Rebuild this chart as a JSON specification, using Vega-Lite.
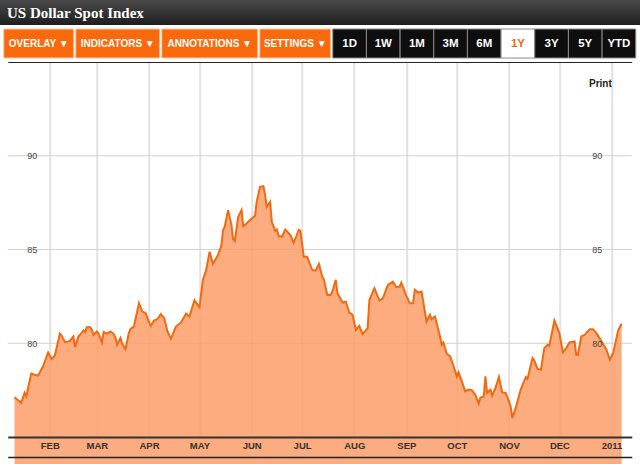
{
  "$schema": "https://vega.github.io/schema/vega-lite/v6.json",
  "background": "white",
  "padding": 0,
  "spacing": 3,
  "center": true,
  "config": {
    "view": {"stroke": null},
    "axis": {"minExtent": 0},
    "font": "Liberation Sans"
  },
  "datasets": {
    "dxy": [
      {"date": "2010-01-11", "value": 77.12},
      {"date": "2010-01-15", "value": 76.82},
      {"date": "2010-01-17", "value": 77.35},
      {"date": "2010-01-18", "value": 77.17},
      {"date": "2010-01-21", "value": 78.38},
      {"date": "2010-01-23", "value": 78.32},
      {"date": "2010-01-25", "value": 78.27},
      {"date": "2010-01-28", "value": 78.77},
      {"date": "2010-01-31", "value": 79.51},
      {"date": "2010-02-02", "value": 79.16},
      {"date": "2010-02-04", "value": 79.34},
      {"date": "2010-02-07", "value": 80.51},
      {"date": "2010-02-08", "value": 80.41},
      {"date": "2010-02-10", "value": 80.06},
      {"date": "2010-02-12", "value": 80.10},
      {"date": "2010-02-13", "value": 80.13},
      {"date": "2010-02-15", "value": 80.36},
      {"date": "2010-02-16", "value": 79.80},
      {"date": "2010-02-18", "value": 80.36},
      {"date": "2010-02-20", "value": 80.57},
      {"date": "2010-02-21", "value": 80.68},
      {"date": "2010-02-22", "value": 80.60},
      {"date": "2010-02-23", "value": 80.86},
      {"date": "2010-02-25", "value": 80.86},
      {"date": "2010-02-26", "value": 80.72},
      {"date": "2010-02-27", "value": 80.45},
      {"date": "2010-03-01", "value": 80.63},
      {"date": "2010-03-02", "value": 80.51},
      {"date": "2010-03-04", "value": 80.04},
      {"date": "2010-03-05", "value": 80.60},
      {"date": "2010-03-07", "value": 80.51},
      {"date": "2010-03-09", "value": 80.63},
      {"date": "2010-03-11", "value": 80.49},
      {"date": "2010-03-12", "value": 80.31},
      {"date": "2010-03-13", "value": 79.92},
      {"date": "2010-03-15", "value": 80.28},
      {"date": "2010-03-16", "value": 79.97},
      {"date": "2010-03-18", "value": 79.69},
      {"date": "2010-03-20", "value": 80.54},
      {"date": "2010-03-21", "value": 80.77},
      {"date": "2010-03-23", "value": 80.89},
      {"date": "2010-03-26", "value": 82.14},
      {"date": "2010-03-28", "value": 81.69},
      {"date": "2010-03-30", "value": 81.61},
      {"date": "2010-03-31", "value": 81.34},
      {"date": "2010-04-02", "value": 80.93},
      {"date": "2010-04-04", "value": 81.21},
      {"date": "2010-04-06", "value": 81.29},
      {"date": "2010-04-08", "value": 81.55},
      {"date": "2010-04-10", "value": 81.34},
      {"date": "2010-04-12", "value": 80.63},
      {"date": "2010-04-14", "value": 80.25},
      {"date": "2010-04-17", "value": 80.89},
      {"date": "2010-04-20", "value": 81.11},
      {"date": "2010-04-23", "value": 81.58},
      {"date": "2010-04-25", "value": 81.43},
      {"date": "2010-04-28", "value": 82.30},
      {"date": "2010-04-30", "value": 82.05},
      {"date": "2010-05-01", "value": 81.93},
      {"date": "2010-05-03", "value": 83.38},
      {"date": "2010-05-05", "value": 83.91},
      {"date": "2010-05-07", "value": 84.88},
      {"date": "2010-05-09", "value": 84.23},
      {"date": "2010-05-12", "value": 84.71},
      {"date": "2010-05-14", "value": 85.19},
      {"date": "2010-05-15", "value": 86.04},
      {"date": "2010-05-16", "value": 86.21},
      {"date": "2010-05-18", "value": 87.10},
      {"date": "2010-05-20", "value": 86.30},
      {"date": "2010-05-21", "value": 85.54},
      {"date": "2010-05-22", "value": 85.45},
      {"date": "2010-05-24", "value": 86.74},
      {"date": "2010-05-26", "value": 87.10},
      {"date": "2010-05-27", "value": 86.25},
      {"date": "2010-05-29", "value": 86.39},
      {"date": "2010-05-31", "value": 86.57},
      {"date": "2010-06-03", "value": 86.80},
      {"date": "2010-06-04", "value": 87.54},
      {"date": "2010-06-06", "value": 88.34},
      {"date": "2010-06-08", "value": 88.38},
      {"date": "2010-06-09", "value": 87.90},
      {"date": "2010-06-10", "value": 87.28},
      {"date": "2010-06-12", "value": 87.54},
      {"date": "2010-06-13", "value": 86.48},
      {"date": "2010-06-15", "value": 86.00},
      {"date": "2010-06-16", "value": 86.07},
      {"date": "2010-06-17", "value": 85.72},
      {"date": "2010-06-19", "value": 85.68},
      {"date": "2010-06-21", "value": 86.07},
      {"date": "2010-06-24", "value": 85.77},
      {"date": "2010-06-26", "value": 85.36},
      {"date": "2010-06-29", "value": 86.04},
      {"date": "2010-06-30", "value": 86.00},
      {"date": "2010-07-02", "value": 84.62},
      {"date": "2010-07-04", "value": 84.62},
      {"date": "2010-07-07", "value": 83.91},
      {"date": "2010-07-09", "value": 83.87},
      {"date": "2010-07-11", "value": 84.23},
      {"date": "2010-07-13", "value": 83.55},
      {"date": "2010-07-14", "value": 83.38},
      {"date": "2010-07-16", "value": 82.58},
      {"date": "2010-07-18", "value": 82.58},
      {"date": "2010-07-19", "value": 82.76},
      {"date": "2010-07-21", "value": 83.38},
      {"date": "2010-07-22", "value": 82.67},
      {"date": "2010-07-25", "value": 82.17},
      {"date": "2010-07-27", "value": 82.22},
      {"date": "2010-07-29", "value": 81.64},
      {"date": "2010-07-31", "value": 81.52},
      {"date": "2010-08-02", "value": 80.72},
      {"date": "2010-08-04", "value": 80.93},
      {"date": "2010-08-06", "value": 80.49},
      {"date": "2010-08-09", "value": 80.81},
      {"date": "2010-08-10", "value": 82.31},
      {"date": "2010-08-13", "value": 82.94},
      {"date": "2010-08-15", "value": 82.49},
      {"date": "2010-08-16", "value": 82.28},
      {"date": "2010-08-18", "value": 82.40},
      {"date": "2010-08-21", "value": 83.11},
      {"date": "2010-08-24", "value": 83.29},
      {"date": "2010-08-26", "value": 82.99},
      {"date": "2010-08-28", "value": 83.02},
      {"date": "2010-08-29", "value": 83.23},
      {"date": "2010-09-01", "value": 82.53},
      {"date": "2010-09-03", "value": 82.14},
      {"date": "2010-09-05", "value": 82.14},
      {"date": "2010-09-06", "value": 82.85},
      {"date": "2010-09-08", "value": 82.70},
      {"date": "2010-09-10", "value": 82.76},
      {"date": "2010-09-13", "value": 81.16},
      {"date": "2010-09-15", "value": 81.52},
      {"date": "2010-09-16", "value": 81.29},
      {"date": "2010-09-18", "value": 81.43},
      {"date": "2010-09-21", "value": 80.36},
      {"date": "2010-09-22", "value": 79.92},
      {"date": "2010-09-23", "value": 80.04},
      {"date": "2010-09-25", "value": 79.44},
      {"date": "2010-09-27", "value": 79.30},
      {"date": "2010-09-29", "value": 78.80},
      {"date": "2010-10-01", "value": 78.23},
      {"date": "2010-10-02", "value": 78.45},
      {"date": "2010-10-04", "value": 77.97},
      {"date": "2010-10-06", "value": 77.44},
      {"date": "2010-10-08", "value": 77.53},
      {"date": "2010-10-10", "value": 77.49},
      {"date": "2010-10-12", "value": 77.26},
      {"date": "2010-10-14", "value": 76.78},
      {"date": "2010-10-15", "value": 77.09},
      {"date": "2010-10-17", "value": 77.17},
      {"date": "2010-10-18", "value": 78.23},
      {"date": "2010-10-19", "value": 77.35},
      {"date": "2010-10-21", "value": 77.53},
      {"date": "2010-10-22", "value": 77.21},
      {"date": "2010-10-24", "value": 77.62},
      {"date": "2010-10-26", "value": 78.20},
      {"date": "2010-10-28", "value": 77.38},
      {"date": "2010-10-30", "value": 77.35},
      {"date": "2010-11-01", "value": 76.90},
      {"date": "2010-11-02", "value": 76.61},
      {"date": "2010-11-03", "value": 76.02},
      {"date": "2010-11-05", "value": 76.55},
      {"date": "2010-11-08", "value": 77.53},
      {"date": "2010-11-11", "value": 78.20},
      {"date": "2010-11-12", "value": 78.10},
      {"date": "2010-11-15", "value": 79.21},
      {"date": "2010-11-16", "value": 79.09},
      {"date": "2010-11-18", "value": 78.63},
      {"date": "2010-11-20", "value": 78.59},
      {"date": "2010-11-22", "value": 79.74},
      {"date": "2010-11-24", "value": 79.92},
      {"date": "2010-11-25", "value": 79.87},
      {"date": "2010-11-28", "value": 81.21},
      {"date": "2010-12-01", "value": 80.54},
      {"date": "2010-12-03", "value": 79.51},
      {"date": "2010-12-05", "value": 79.74},
      {"date": "2010-12-07", "value": 80.04},
      {"date": "2010-12-10", "value": 80.10},
      {"date": "2010-12-11", "value": 79.39},
      {"date": "2010-12-12", "value": 79.39},
      {"date": "2010-12-14", "value": 80.36},
      {"date": "2010-12-16", "value": 80.45},
      {"date": "2010-12-19", "value": 80.75},
      {"date": "2010-12-21", "value": 80.75},
      {"date": "2010-12-23", "value": 80.54},
      {"date": "2010-12-26", "value": 80.10},
      {"date": "2010-12-29", "value": 79.65},
      {"date": "2010-12-31", "value": 79.12},
      {"date": "2011-01-02", "value": 79.48},
      {"date": "2011-01-05", "value": 80.72},
      {"date": "2011-01-07", "value": 81.04}
    ]
  },
  "vconcat": [
    {
      "width": 640,
      "height": 25,
      "data": {"values": [{"name": "US Dollar Spot Index"}]},
      "title": {"text": "US Dollar Spot Index", "anchor": "start", "frame": "group", "orient": "top", "offset": -33, "baseline": "alphabetic", "dx": 7, "font": "Liberation Serif", "fontSize": 15, "fontWeight": "bold", "color": "#ffffff"},
      "mark": {"type": "rect", "fill": {"gradient": "linear", "x1": 0, "y1": 0, "x2": 0, "y2": 1, "stops": [{"offset": 0, "color": "#4a4a4a"}, {"offset": 1, "color": "#1e1e1e"}]}},
      "encoding": {}
    },
    {
      "spacing": 0,
      "hconcat": [
        {
          "width": 70, "height": 29,
          "data": {"values": [{"label": "OVERLAY ▼"}]},
          "layer": [
            {"mark": {"type": "rect", "color": "#fa690c", "stroke": "#ffc9a3", "strokeWidth": 1}, "encoding": {}},
            {"mark": {"type": "text", "color": "#ffffff", "fontSize": 10, "fontWeight": "bold"}, "encoding": {"text": {"field": "label"}}}
          ]
        },
        {
          "width": 84, "height": 29,
          "data": {"values": [{"label": "INDICATORS ▼"}]},
          "layer": [
            {"mark": {"type": "rect", "color": "#fa690c", "stroke": "#ffc9a3", "strokeWidth": 1}, "encoding": {}},
            {"mark": {"type": "text", "color": "#ffffff", "fontSize": 10, "fontWeight": "bold"}, "encoding": {"text": {"field": "label"}}}
          ]
        },
        {
          "width": 96, "height": 29,
          "data": {"values": [{"label": "ANNOTATIONS ▼"}]},
          "layer": [
            {"mark": {"type": "rect", "color": "#fa690c", "stroke": "#ffc9a3", "strokeWidth": 1}, "encoding": {}},
            {"mark": {"type": "text", "color": "#ffffff", "fontSize": 10, "fontWeight": "bold"}, "encoding": {"text": {"field": "label"}}}
          ]
        },
        {
          "width": 71, "height": 29,
          "data": {"values": [{"label": "SETTINGS ▼"}]},
          "layer": [
            {"mark": {"type": "rect", "color": "#fa690c", "stroke": "#ffc9a3", "strokeWidth": 1}, "encoding": {}},
            {"mark": {"type": "text", "color": "#ffffff", "fontSize": 10, "fontWeight": "bold"}, "encoding": {"text": {"field": "label"}}}
          ]
        },
        {
          "width": 303, "height": 29,
          "data": {"values": [
            {"label": "1D", "state": "off"},
            {"label": "1W", "state": "off"},
            {"label": "1M", "state": "off"},
            {"label": "3M", "state": "off"},
            {"label": "6M", "state": "off"},
            {"label": "1Y", "state": "on"},
            {"label": "3Y", "state": "off"},
            {"label": "5Y", "state": "off"},
            {"label": "YTD", "state": "off"}
          ]},
          "layer": [
            {
              "mark": {"type": "rect", "stroke": "#8a8a8a", "strokeWidth": 1},
              "encoding": {
                "x": {"field": "label", "type": "nominal", "sort": null, "axis": null, "scale": {"paddingInner": 0, "paddingOuter": 0}},
                "fill": {"field": "state", "type": "nominal", "scale": {"domain": ["off", "on"], "range": ["#0e0e0e", "#ffffff"]}, "legend": null}
              }
            },
            {
              "mark": {"type": "text", "fontSize": 11.5, "fontWeight": "bold"},
              "encoding": {
                "x": {"field": "label", "type": "nominal", "sort": null, "axis": null, "scale": {"paddingInner": 0, "paddingOuter": 0}},
                "text": {"field": "label"},
                "color": {"field": "state", "type": "nominal", "scale": {"domain": ["off", "on"], "range": ["#ffffff", "#f26a10"]}, "legend": null}
              }
            }
          ]
        }
      ]
    },
    {
      "width": 624,
      "height": 375,
      "data": {"name": "dxy"},
      "title": {"text": "Print", "anchor": "end", "frame": "group", "orient": "top", "offset": -35, "baseline": "alphabetic", "dx": -20, "fontSize": 10, "fontWeight": "bold", "color": "#222222", "font": "Liberation Sans"},
      "layer": [
        {
          "data": {"values": [{"level": 80}, {"level": 85}, {"level": 90}]},
          "mark": {"type": "rule", "color": "#d2d2d2", "strokeWidth": 1},
          "encoding": {
            "y": {"field": "level", "type": "quantitative", "scale": {"domain": [75, 95], "zero": false, "nice": false}, "axis": null}
          }
        },
        {
          "mark": {"type": "area", "color": "#fb9e68", "fillOpacity": 0.85, "line": {"color": "#f26a10", "strokeWidth": 2}},
          "encoding": {
            "x": {
              "field": "date", "type": "temporal",
              "scale": {"type": "utc", "domain": [{"year": 2010, "month": 1, "date": 7, "utc": true}, {"year": 2011, "month": 1, "date": 13, "utc": true}]},
              "axis": {
                "orient": "bottom", "offset": 0, "zindex": 1, "title": null,
                "values": [
                  {"year": 2010, "month": 2, "date": 1, "utc": true},
                  {"year": 2010, "month": 3, "date": 1, "utc": true},
                  {"year": 2010, "month": 4, "date": 1, "utc": true},
                  {"year": 2010, "month": 5, "date": 1, "utc": true},
                  {"year": 2010, "month": 6, "date": 1, "utc": true},
                  {"year": 2010, "month": 7, "date": 1, "utc": true},
                  {"year": 2010, "month": 8, "date": 1, "utc": true},
                  {"year": 2010, "month": 9, "date": 1, "utc": true},
                  {"year": 2010, "month": 10, "date": 1, "utc": true},
                  {"year": 2010, "month": 11, "date": 1, "utc": true},
                  {"year": 2010, "month": 12, "date": 1, "utc": true},
                  {"year": 2011, "month": 1, "date": 1, "utc": true}
                ],
                "labelExpr": "utcmonth(datum.value) == 0 ? utcFormat(datum.value, '%Y') : upper(utcFormat(datum.value, '%b'))",
                "grid": false, "ticks": false, "tickSize": 0,
                "domain": true, "domainColor": "#333333", "domainWidth": 2,
                "labelFont": "Liberation Sans", "labelFontSize": 9.5, "labelFontWeight": "bold", "labelColor": "#333333",
                "labelPadding": 3, "labelFlush": false, "labelOverlap": false
              }
            },
            "y": {
              "field": "value", "type": "quantitative",
              "axis": {
                "orient": "left", "offset": 0, "title": null, "zindex": 1,
                "values": [80, 85, 90], "grid": false, "domain": false, "ticks": false, "tickSize": 0,
                "labelAlign": "center", "labelBaseline": "middle", "labelPadding": -24,
                "labelFontSize": 9, "labelColor": "#444444"
              }
            }
          }
        },
        {
          "mark": {"type": "line", "opacity": 0},
          "encoding": {
            "x": {
              "field": "date", "type": "temporal",
              "axis": {
                "orient": "top", "offset": 0, "title": null, "zindex": 0,
                "values": [
                  {"year": 2010, "month": 2, "date": 1, "utc": true},
                  {"year": 2010, "month": 3, "date": 1, "utc": true},
                  {"year": 2010, "month": 4, "date": 1, "utc": true},
                  {"year": 2010, "month": 5, "date": 1, "utc": true},
                  {"year": 2010, "month": 6, "date": 1, "utc": true},
                  {"year": 2010, "month": 7, "date": 1, "utc": true},
                  {"year": 2010, "month": 8, "date": 1, "utc": true},
                  {"year": 2010, "month": 9, "date": 1, "utc": true},
                  {"year": 2010, "month": 10, "date": 1, "utc": true},
                  {"year": 2010, "month": 11, "date": 1, "utc": true},
                  {"year": 2010, "month": 12, "date": 1, "utc": true},
                  {"year": 2011, "month": 1, "date": 1, "utc": true}
                ],
                "grid": true, "gridColor": "#e2e2e2", "gridWidth": 2,
                "labels": false, "ticks": false, "tickSize": 0,
                "domain": true, "domainColor": "#222222", "domainWidth": 1
              }
            },
            "y": {
              "field": "value", "type": "quantitative",
              "axis": {
                "orient": "right", "offset": 0, "title": null, "zindex": 1,
                "values": [80, 85, 90], "grid": false, "domain": false, "ticks": false, "tickSize": 0,
                "labelAlign": "center", "labelBaseline": "middle", "labelPadding": -35,
                "labelFontSize": 9, "labelColor": "#444444"
              }
            }
          }
        },
        {
          "mark": {"type": "line", "opacity": 0},
          "encoding": {
            "x": {
              "field": "date", "type": "temporal",
              "axis": {
                "orient": "bottom", "offset": 20, "title": null, "zindex": 1,
                "labels": false, "ticks": false, "tickSize": 0, "grid": false,
                "domain": true, "domainColor": "#222222", "domainWidth": 1.5
              }
            },
            "y": {"field": "value", "type": "quantitative", "axis": null}
          }
        }
      ],
      "resolve": {"axis": {"x": "independent", "y": "independent"}}
    }
  ]
}
